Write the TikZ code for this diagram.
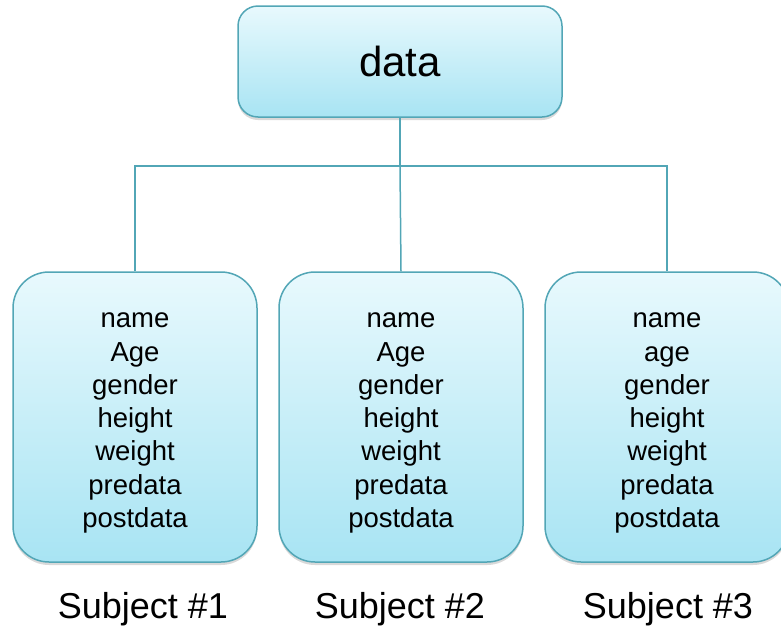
\documentclass[tikz,border=0pt]{standalone}
\usepackage{fontspec}
\setmainfont{Liberation Sans}
\usetikzlibrary{shadows, positioning}
\definecolor{aquaedge}{HTML}{52A6B6}
\definecolor{aquatop}{HTML}{E8F9FD}
\definecolor{aquabot}{HTML}{A8E4F3}
\newcommand\fieldlist[1]{\raisebox{-4pt}[\height][\depth]{\begin{tabular}{@{}c@{}}#1\end{tabular}}}

\begin{document}
\begin{tikzpicture}[x=1pt, y=-1pt,
  box/.style={draw=aquaedge, line width=1.5pt, top color=aquatop, bottom color=aquabot, align=center, inner sep=0pt,
    drop shadow={shadow xshift=0pt, shadow yshift=-3pt, opacity=0.3}},
  rootBox/.style={box, rounded corners=20pt, minimum width=324pt, minimum height=111pt, font=\fontsize{42}{50}\selectfont},
  subjBox/.style={box, rounded corners=36pt, minimum width=244pt, minimum height=290pt, font=\fontsize{27.5}{33.3}\selectfont},
  caption/.style={anchor=base, font=\fontsize{36}{43}\selectfont},
  link/.style={draw=aquaedge, line width=1.5pt}
]
\useasboundingbox (0,0) rectangle (781,627);

\node[rootBox] (root) at (400,61.5) {data};

\node[subjBox] (s1) at (135,417) {\fieldlist{name\\Age\\gender\\height\\weight\\predata\\postdata}};
\node[subjBox] (s2) at (401,417) {\fieldlist{name\\Age\\gender\\height\\weight\\predata\\postdata}};
\node[subjBox] (s3) at (667,417) {\fieldlist{name\\age\\gender\\height\\weight\\predata\\postdata}};

\coordinate (bus) at (400,166);
\draw[link] (root.south) -- (bus);
\draw[link] (s1.north) |- (bus) -| (s3.north);
\draw[link] (bus) -- (s2.north);

\node[caption] (c1) at (143,618) {Subject \#1};
\node[caption] (c2) at (400,618) {Subject \#2};
\node[caption] (c3) at (668,618) {Subject \#3};

\end{tikzpicture}
\end{document}
